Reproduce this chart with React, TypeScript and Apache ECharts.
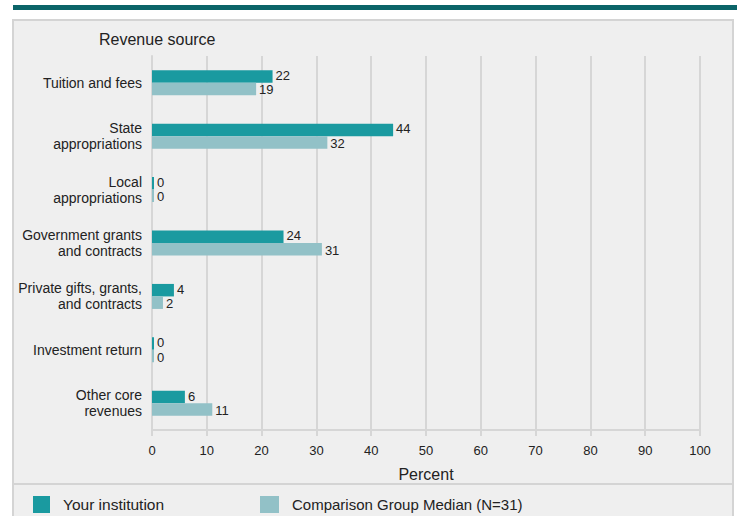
import React, { useEffect, useRef } from "react";
import * as echarts from "echarts";

const categories = [
  "Tuition and fees",
  "State\nappropriations",
  "Local\nappropriations",
  "Government grants\nand contracts",
  "Private gifts, grants,\nand contracts",
  "Investment return",
  "Other core\nrevenues",
];
const yourInstitution = [22, 44, 0, 24, 4, 0, 6];
const comparisonMedian = [19, 32, 0, 31, 2, 0, 11];
const seriesNames = ["Your institution", "Comparison Group Median (N=31)"];

const FONT = "'Liberation Sans', Arial, sans-serif";
const TEXT = "#222222";
const TEAL = "#1a9aa0";
const LIGHT = "#92c1c7";
const GRIDC = "#d6d6d6";

export default function App() {
  const ref = useRef<HTMLDivElement>(null);
  useEffect(() => {
    if (!ref.current) return;
    const chart = echarts.init(ref.current, undefined, { renderer: "svg" });
    const label = (dy: number) => ({
      show: true,
      position: "right" as const,
      distance: 3,
      offset: [0, dy],
      color: TEXT,
      fontSize: 13,
      lineHeight: 12,
      fontFamily: FONT,
    });
    chart.setOption({
      animation: false,
      backgroundColor: "#ffffff",
      textStyle: { fontFamily: FONT },
      graphic: [
        { type: "rect", z: -10, shape: { x: 13, y: 5, width: 724, height: 5 }, style: { fill: "#0b6468" } },
        {
          type: "rect",
          z: -10,
          shape: { x: 13, y: 20, width: 720, height: 510 },
          style: { fill: "#efefef", stroke: "#d4d4d4", lineWidth: 2 },
        },
        {
          type: "line",
          z: -9,
          shape: { x1: 13, y1: 484, x2: 733, y2: 484 },
          style: { stroke: "#d4d4d4", lineWidth: 2 },
        },
        {
          type: "text",
          x: 99,
          y: 39,
          style: { text: "Revenue source", fontSize: 16, fontFamily: FONT, fill: TEXT, verticalAlign: "middle" },
        },
      ],
      legend: [
        {
          data: [seriesNames[0]],
          left: 33,
          top: 496,
          itemWidth: 17,
          itemHeight: 17,
          icon: "rect",
          textStyle: { fontSize: 15.5, color: TEXT, fontFamily: FONT, padding: [0, 0, 0, 8] },
          padding: 0,
        },
        {
          data: [seriesNames[1]],
          left: 260,
          top: 496,
          itemWidth: 19,
          itemHeight: 17,
          icon: "rect",
          textStyle: { fontSize: 15, color: TEXT, fontFamily: FONT, padding: [0, 0, 0, 8] },
          padding: 0,
        },
      ],
      grid: { left: 152, right: 37, top: 56, bottom: 86 },
      xAxis: {
        type: "value",
        min: 0,
        max: 100,
        interval: 10,
        name: "Percent",
        nameLocation: "middle",
        nameGap: 36,
        nameTextStyle: { fontSize: 16, color: TEXT, fontFamily: FONT },
        axisLine: { show: true, lineStyle: { color: GRIDC, width: 2 } },
        axisTick: { show: true, length: 6, lineStyle: { color: GRIDC, width: 2 } },
        axisLabel: { fontSize: 13, color: TEXT, fontFamily: FONT, margin: 14 },
        splitLine: { show: true, lineStyle: { color: GRIDC, width: 2 } },
      },
      yAxis: {
        type: "category",
        data: categories,
        inverse: true,
        axisLine: { show: true, lineStyle: { color: GRIDC, width: 2 } },
        axisTick: { show: false },
        axisLabel: { fontSize: 14, color: TEXT, fontFamily: FONT, margin: 10, lineHeight: 16, align: "right" },
      },
      series: [
        {
          name: seriesNames[0],
          type: "bar",
          data: yourInstitution,
          itemStyle: { color: TEAL },
          barWidth: 12.5,
          barGap: "0%",
          barMinHeight: 2,
          label: label(-1),
        },
        {
          name: seriesNames[1],
          type: "bar",
          data: comparisonMedian,
          itemStyle: { color: LIGHT },
          barWidth: 12.5,
          barGap: "0%",
          barMinHeight: 2,
          label: label(1),
        },
      ],
    });
    return () => chart.dispose();
  }, []);
  return (
    <div
      ref={ref}
      style={{ position: "fixed", left: 0, top: 0, width: 737, height: 516 }}
    />
  );
}
